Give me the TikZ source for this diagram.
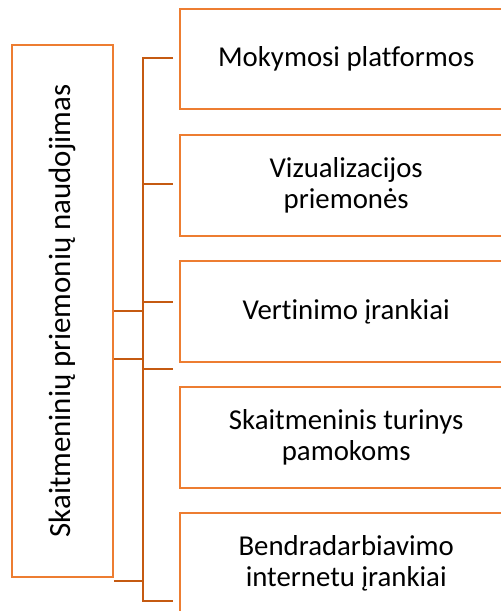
\documentclass[tikz,border=0pt]{standalone}
\usepackage{fontspec}
\setmainfont{Carlito}[Ligatures=NoCommon]
\usetikzlibrary{positioning}
\definecolor{boxorange}{HTML}{ED7D31}
\definecolor{linkbrown}{HTML}{C55A11}

\begin{document}
\begin{tikzpicture}[x=1pt, y=-1pt,
  box/.style={draw=boxorange, line width=2.4pt, inner sep=0pt, align=center,
    font=\fontsize{28.8}{31}\selectfont},
  item/.style={box, anchor=north west, minimum width=332pt, minimum height=101pt},
  link/.style={draw=linkbrown, line width=2.6pt}]
\useasboundingbox (0,0) rectangle (501,611);
\clip (0,0) rectangle (501,611);

% main box, text turned upwards
\node[box, rotate=90, minimum width=532pt, minimum height=101pt,
  font=\fontsize{30.9}{33}\selectfont] (main) at (62.5,311)
  {Skaitmeninių priemonių naudojimas};

% tool groups
\node[item, minimum height=100pt] (platf) at (179,8) {Mokymosi platformos};
\node[item] (vizual) at (179,134) {Vizualizacijos\\priemonės};
\node[item] (vertin) at (179,260) {Vertinimo įrankiai};
\node[item] (turin) at (179,386) {Skaitmeninis turinys\\pamokoms};
\node[item] (bendr) at (179,512) {Bendradarbiavimo\\internetu įrankiai};

% connectors
\coordinate (bustop) at (143,58);
\coordinate (busbot) at (143,601);
\draw[link] ([xshift=30pt]bustop) -- (bustop) -- (busbot) -- ([xshift=30pt]busbot);
\foreach \y/\n in {184/b, 302/c, 369/d} {
  \coordinate (tick\n) at (143,\y);
  \draw[link] (tick\n) -- ++(30,0);
}
\foreach \y/\n in {311/a, 359/b, 581/c} {
  \coordinate (from\n) at (main.south |- 0,\y);
  \draw[link] (from\n) -- ++(30,0);
}
\end{tikzpicture}
\end{document}
